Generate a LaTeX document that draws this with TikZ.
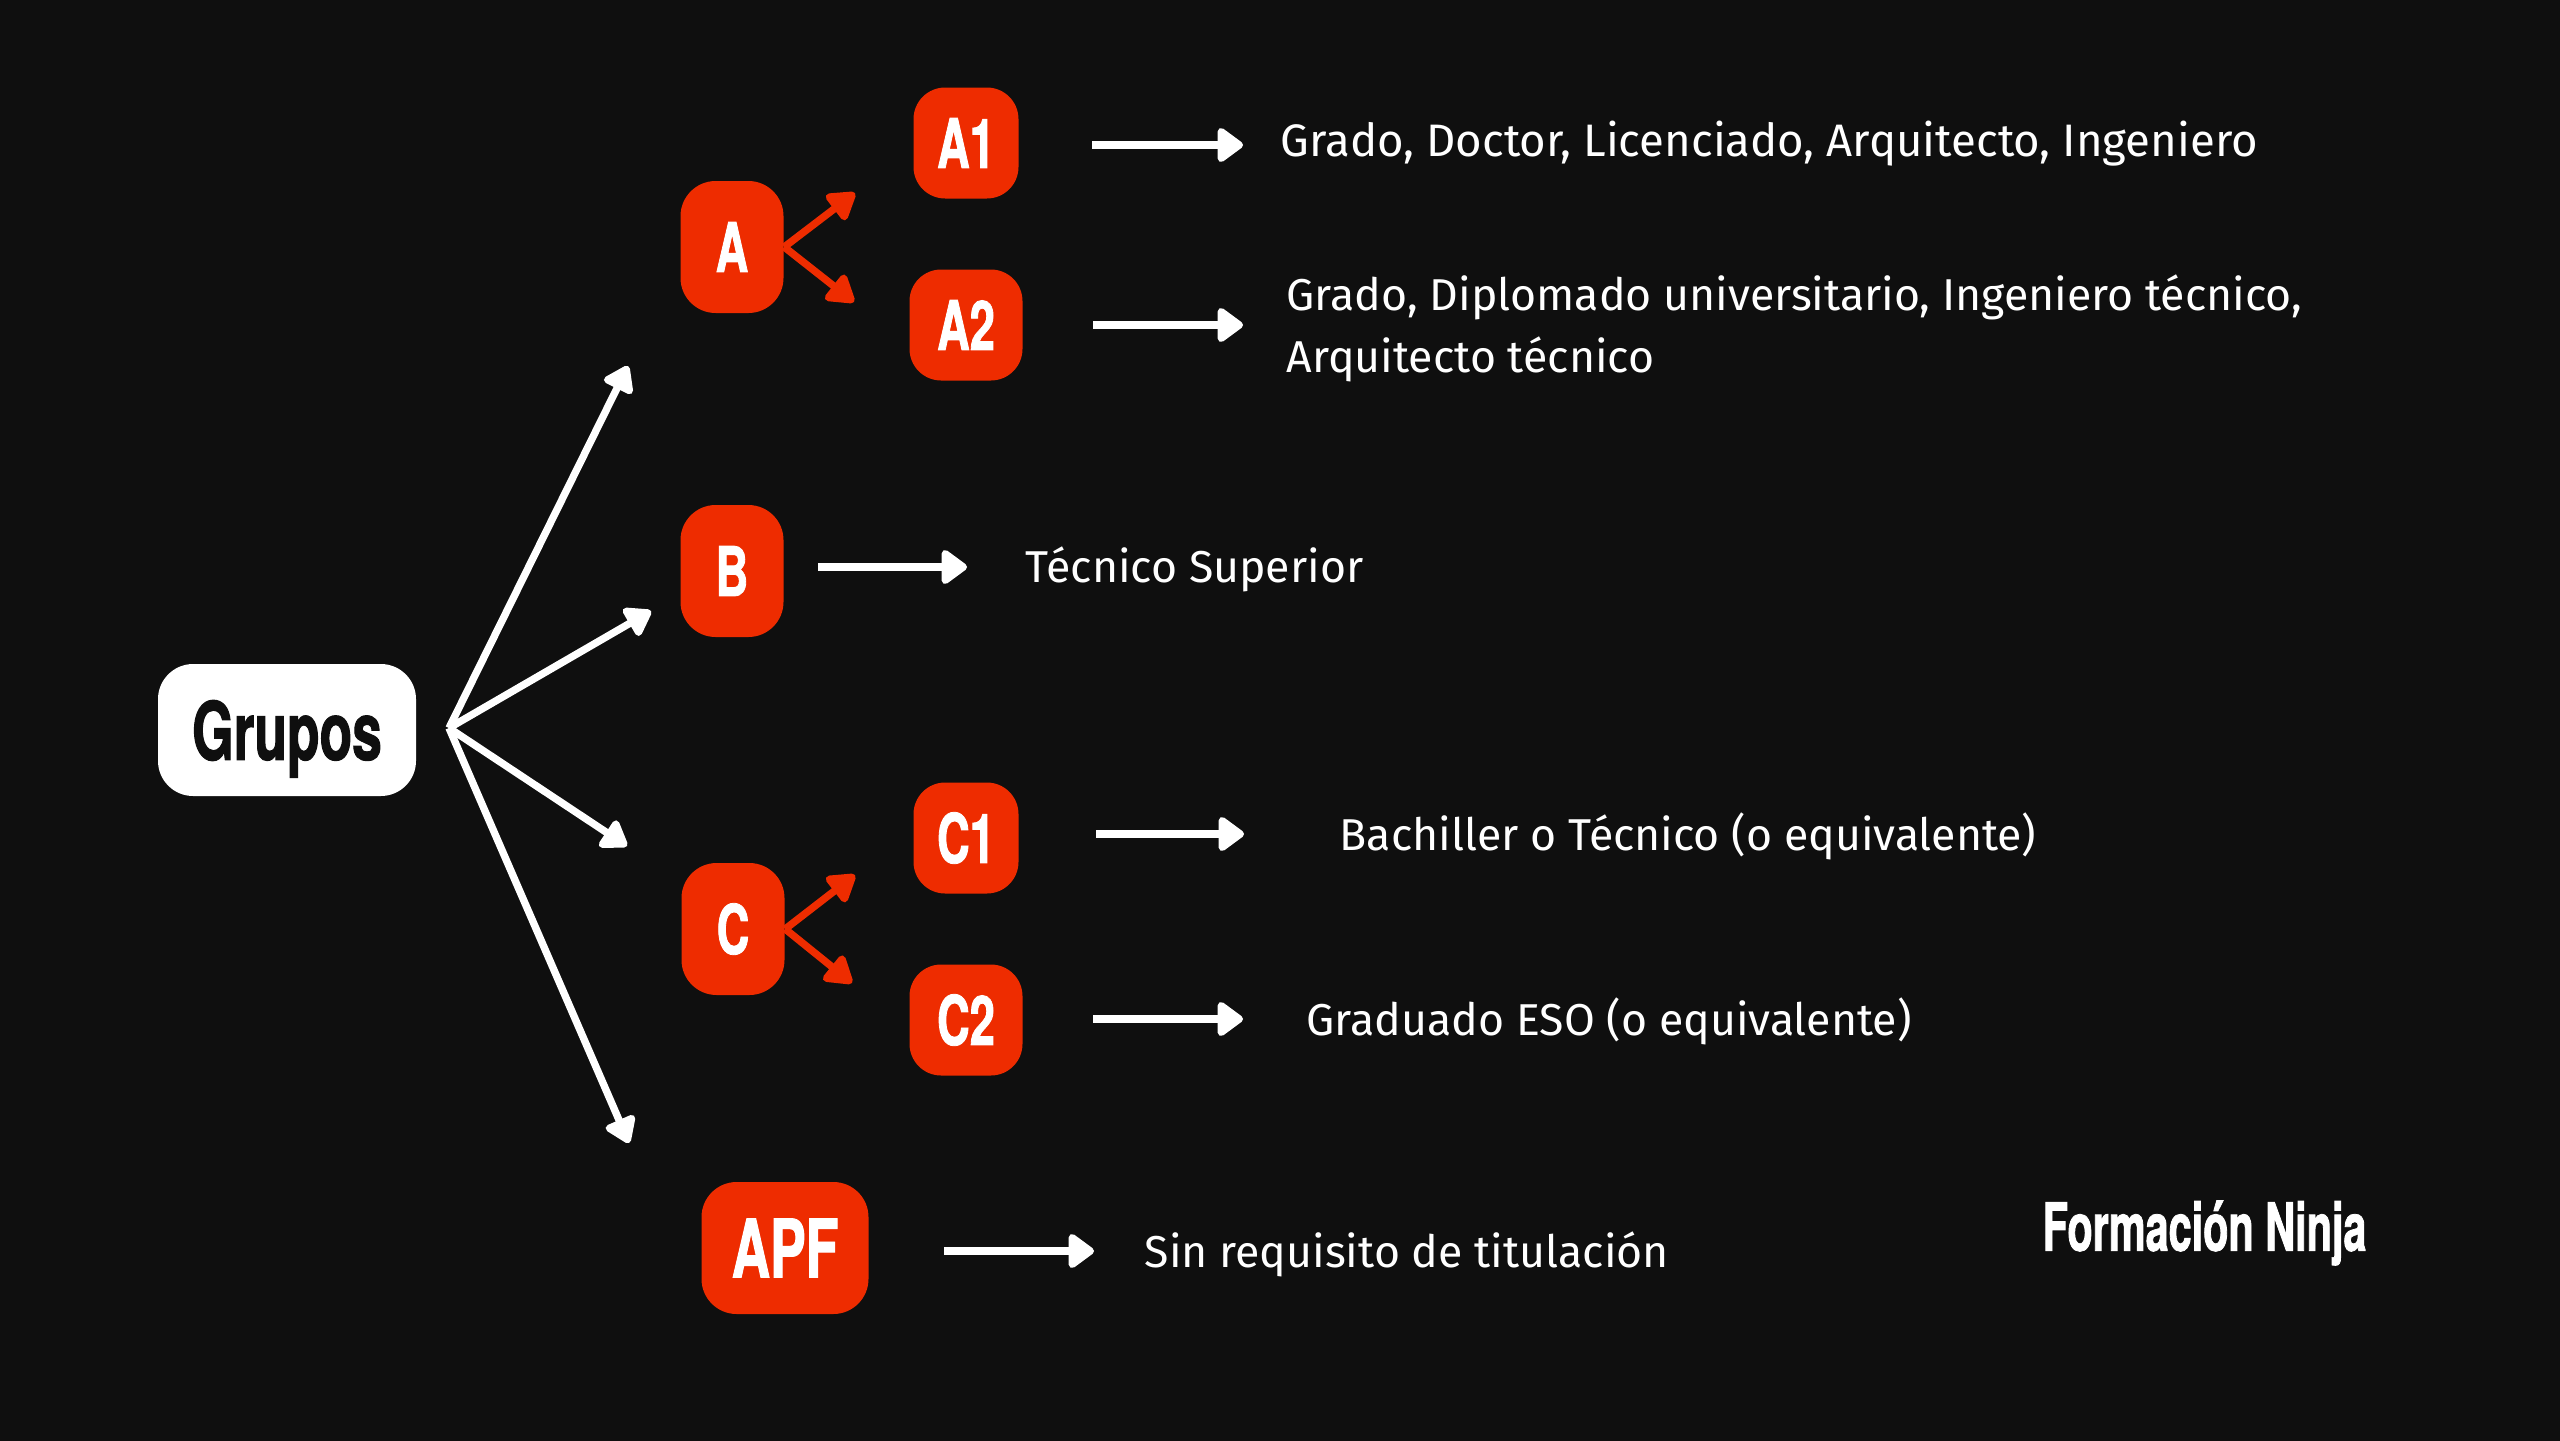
\documentclass[tikz,border=0pt]{standalone}
\usepackage{fontspec}
\usepackage{xcolor}
\usetikzlibrary{arrows.meta,positioning}
\setmainfont{Fira Sans}
\newfontfamily\headfont[FakeStretch=0.66,BoldFeatures={FakeBold=1.2}]{TeX Gyre Heros}
\newfontfamily\brandfont[FakeStretch=0.62,BoldFeatures={FakeBold=1.2}]{TeX Gyre Heros}
\definecolor{GroupBack}{HTML}{0F0F0F}
\definecolor{GroupRed}{HTML}{EE2C00}

\begin{document}
\begin{tikzpicture}[
  x=1cm,
  y=1cm,
  font=\fontsize{12.7}{17.6}\selectfont,
  box/.style={
    rounded corners=10pt,
    align=center,
    inner sep=0pt,
    fill=GroupRed,
    text=white,
    font=\headfont\bfseries\fontsize{19.5}{20}\selectfont
  },
  tallbox/.style={box, minimum width=1.03cm, minimum height=1.32cm},
  subbox/.style={box, minimum width=1.05cm, minimum height=1.11cm, rounded corners=9pt},
  widebox/.style={subbox, minimum width=1.13cm},
  label/.style={anchor=west, align=left, inner sep=0pt, text=white},
  arrow/.style={-{Triangle[length=2.8mm,width=3.9mm,round]}, line width=2.4pt, draw=white},
  spoke/.style={-{Triangle[length=2.8mm,width=3.6mm,round]}, line width=2.1pt, draw=white},
  redarrow/.style={-{Triangle[length=3mm,width=3.6mm,round]}, line width=2.1pt, draw=GroupRed}
]
\useasboundingbox (0,0) rectangle (25.6,-14.4);
\fill[GroupBack] (-0.1,0.1) rectangle (25.7,-14.5);

\node[box, fill=white, text=GroupBack, text depth=0pt, minimum width=2.58cm, minimum height=1.32cm, font=\headfont\bfseries\fontsize{23}{24}\selectfont] (grupos) at (2.87,-7.30) {Grupos};

\node[tallbox] (a) at (7.32,-2.47) {A};
\node[tallbox] (b) at (7.32,-5.71) {B};
\node[tallbox] (c) at (7.33,-9.29) {C};
\node[subbox] (a1) at (9.66,-1.43) {A1};
\node[widebox] (a2) at (9.66,-3.25) {A2};
\node[subbox] (c1) at (9.66,-8.38) {C1};
\node[widebox] (c2) at (9.66,-10.20) {C2};
\node[tallbox, minimum width=1.67cm, font=\headfont\bfseries\fontsize{23}{24}\selectfont] (apf) at (7.85,-12.48) {APF};

\node[label, font=\fontsize{12.95}{17.6}\selectfont] (a1text) at (12.80,-1.44) {Grado, Doctor, Licenciado, Arquitecto, Ingeniero};
\node[label] (a2text) at (12.86,-3.28) {Grado, Diplomado universitario, Ingeniero técnico,\\Arquitecto técnico};
\node[label] (btext) at (10.25,-5.69) {Técnico Superior};
\node[label] (c1text) at (13.39,-8.36) {Bachiller o Técnico (o equivalente)};
\node[label] (c2text) at (13.06,-10.21) {Graduado ESO (o equivalente)};
\node[label] (apftext) at (11.44,-12.54) {Sin requisito de titulación};
\node[label, font=\brandfont\bfseries\fontsize{19}{20}\selectfont] (brand) at (20.42,-12.33) {Formación Ninja};

\coordinate (hub) at (4.49,-7.28);
\coordinate (toa) at (6.28,-3.66);
\coordinate (tob) at (6.51,-6.11);
\coordinate (toc) at (6.27,-8.46);
\coordinate (toapf) at (6.29,-11.43);
\coordinate (aup) at (8.55,-1.93);
\coordinate (adown) at (8.54,-3.02);
\coordinate (cup) at (8.55,-8.75);
\coordinate (cdown) at (8.52,-9.83);
\coordinate (a1head) at (12.43,-1.45);
\coordinate (a2head) at (12.43,-3.25);
\coordinate (bhead) at (9.67,-5.67);
\coordinate (c1head) at (12.44,-8.34);
\coordinate (c2head) at (12.43,-10.19);
\coordinate (apfhead) at (10.94,-12.51);

\draw[spoke] (hub) -- (toa);
\draw[spoke] (hub) -- (tob);
\draw[spoke] (hub) -- (toc);
\draw[spoke] (hub) -- (toapf);
\draw[redarrow] (a.east) -- (aup);
\draw[redarrow] (a.east) -- (adown);
\draw[redarrow] (c.east) -- (cup);
\draw[redarrow] (c.east) -- (cdown);
\draw[arrow, shorten <=0.73cm] (a1head -| a1.east) -- (a1head);
\draw[arrow, shorten <=0.70cm] (a2head -| a2.east) -- (a2head);
\draw[arrow, shorten <=0.34cm] (bhead -| b.east) -- (bhead);
\draw[arrow, shorten <=0.77cm] (c1head -| c1.east) -- (c1head);
\draw[arrow, shorten <=0.70cm] (c2head -| c2.east) -- (c2head);
\draw[arrow, shorten <=0.75cm] (apfhead -| apf.east) -- (apfhead);
\end{tikzpicture}
\end{document}
